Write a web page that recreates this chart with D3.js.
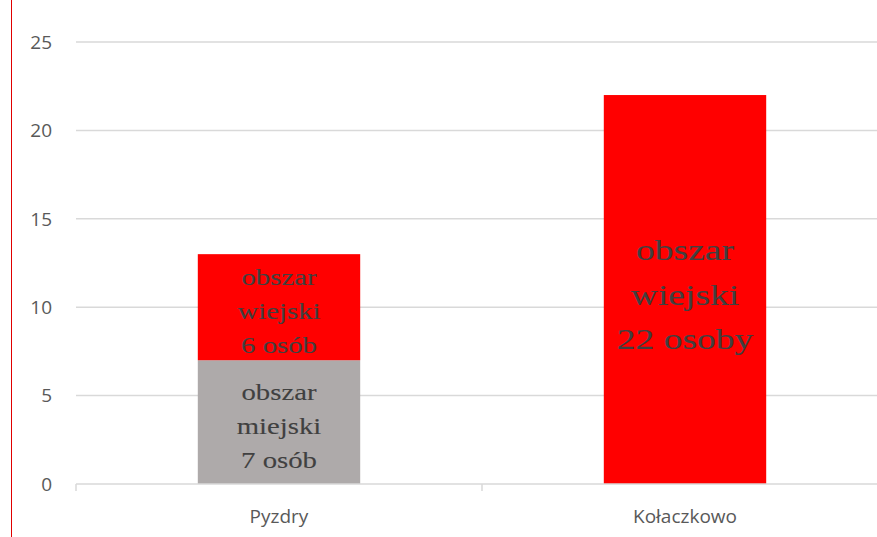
<!DOCTYPE html>
<html>
<head>
<meta charset="utf-8">
<script src="https://cdn.jsdelivr.net/npm/d3@7"></script>
<style>
  body { margin: 0; background: #fff; }
  svg { display: block; }
</style>
</head>
<body>
<svg id="canvas" width="877" height="537"></svg>
<script>
let categories = ['Pyzdry', 'Kołaczkowo']
let miejski = [7, 0]
let wiejski = [6, 22]
let yTicks = [0, 5, 10, 15, 20, 25]

let miejskiLabels = [['obszar', 'miejski', '7 osób'], null]
let wiejskiLabels = [['obszar', 'wiejski', '6 osób'], ['obszar', 'wiejski', '22 osoby']]
let labelSizes = [23, 30]

let canvas = d3.select('#canvas')

// plot area (right band runs a bit past the window, like the original)
let plotLeft = 76, plotRight = 888, plotTop = 42, plotBottom = 484

let x = d3.scaleBand()
    .domain(categories)
    .range([plotLeft, plotRight])
    .paddingInner(0)
    .paddingOuter(0)

let y = d3.scaleLinear()
    .domain([0, 25])
    .range([plotBottom, plotTop])

let barWidth = x.bandwidth() * 0.4

// red line at the left edge
canvas.append('line')
    .attr('x1', 11.5).attr('x2', 11.5)
    .attr('y1', 0).attr('y2', 537)
    .attr('stroke', '#e00000')
    .attr('stroke-width', 1)

// gridlines
canvas.append('g')
    .selectAll('line')
    .data(yTicks.filter(d => d > 0))
    .enter()
    .append('line')
    .attr('x1', plotLeft).attr('x2', 877)
    .attr('y1', d => y(d)).attr('y2', d => y(d))
    .attr('stroke', '#d9d9d9')
    .attr('stroke-width', 1.5)

// y tick labels
canvas.append('g')
    .selectAll('text')
    .data(yTicks)
    .enter()
    .append('text')
    .attr('x', 52)
    .attr('y', d => y(d))
    .attr('dy', '0.36em')
    .attr('text-anchor', 'end')
    .attr('font-family', '"Open Sans", sans-serif')
    .attr('font-size', 19)
    .attr('fill', '#595959')
    .text(d => d)

// bars
let stack = categories.map((c, i) => ({
    cat: c,
    segs: [
        {y0: 0, y1: miejski[i], color: '#aeaaaa', lines: miejskiLabels[i]},
        {y0: miejski[i], y1: miejski[i] + wiejski[i], color: '#ff0000', lines: wiejskiLabels[i]}
    ].filter(s => s.y1 > s.y0),
    size: labelSizes[i]
}))

stack.forEach(bar => {
    let cx = x(bar.cat) + x.bandwidth() / 2
    bar.segs.forEach(seg => {
        canvas.append('rect')
            .attr('x', cx - barWidth / 2)
            .attr('y', y(seg.y1))
            .attr('width', barWidth)
            .attr('height', y(seg.y0) - y(seg.y1))
            .attr('fill', seg.color)

        let cy = (y(seg.y0) + y(seg.y1)) / 2
        let lineH = bar.size * 1.48
        let g = canvas.append('g')
            .attr('transform', 'translate(' + cx + ',' + cy + ') scale(1.25,1)')
        g.selectAll('text')
            .data(seg.lines)
            .enter()
            .append('text')
            .attr('x', 0)
            .attr('y', (d, i) => (i - 1) * lineH + bar.size * 0.5)
            .attr('text-anchor', 'middle')
            .attr('font-family', '"Liberation Serif", "Times New Roman", serif')
            .attr('font-size', bar.size)
            .attr('fill', '#404040')
            .attr('stroke', '#404040')
            .attr('stroke-width', 0.12)
            .text(d => d)
    })
})

// x axis line and ticks
canvas.append('line')
    .attr('x1', plotLeft).attr('x2', 877)
    .attr('y1', plotBottom).attr('y2', plotBottom)
    .attr('stroke', '#d9d9d9')
    .attr('stroke-width', 1.5)

canvas.append('g')
    .selectAll('line')
    .data([plotLeft, plotLeft + x.bandwidth(), plotRight])
    .enter()
    .append('line')
    .attr('x1', d => d).attr('x2', d => d)
    .attr('y1', plotBottom).attr('y2', plotBottom + 7)
    .attr('stroke', '#d9d9d9')
    .attr('stroke-width', 1.5)

// category labels
canvas.append('g')
    .selectAll('text')
    .data(categories)
    .enter()
    .append('text')
    .attr('x', d => x(d) + x.bandwidth() / 2)
    .attr('y', 523)
    .attr('text-anchor', 'middle')
    .attr('font-family', '"Open Sans", sans-serif')
    .attr('font-size', 19)
    .attr('fill', '#595959')
    .text(d => d)
</script>
</body>
</html>
